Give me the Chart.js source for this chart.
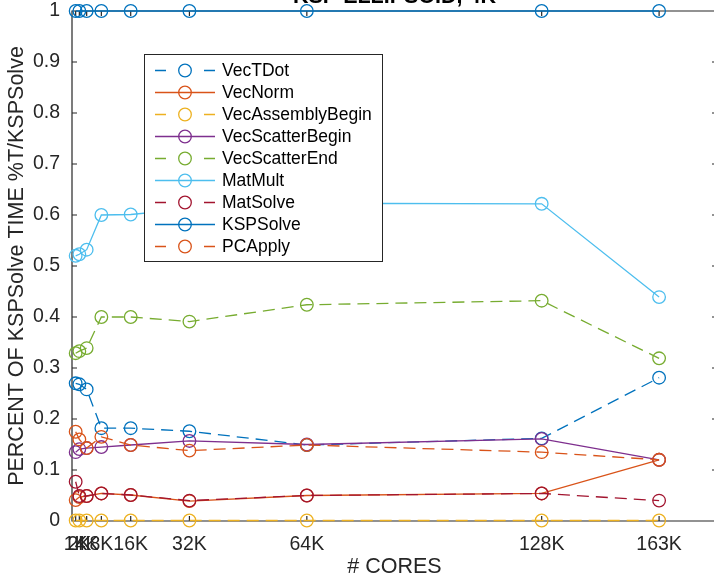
<!DOCTYPE html>
<html>
<head>
<meta charset="utf-8">
<script src="https://cdn.jsdelivr.net/npm/chart.js@4.4.1/dist/chart.umd.min.js"></script>
<style>
  html, body { margin: 0; padding: 0; background: #fff; overflow: hidden; width: 714px; height: 580px; }
  #wrap { position: relative; width: 720px; height: 580px; }
</style>
</head>
<body>
<div id="wrap"><canvas id="c" width="720" height="580"></canvas></div>
<script>
// Core counts (x positions) and their tick labels
const coreCounts = [1024, 2048, 4096, 8192, 16384, 32768, 65536, 131072, 163840];
const coreLabels = ['1K', '2K', '4K', '8K', '16K', '32K', '64K', '128K', '163K'];
const yTickValues = [0, 0.1, 0.2, 0.3, 0.4, 0.5, 0.6, 0.7, 0.8, 0.9, 1];

// Fraction of KSPSolve time spent in each event
const vecTDot          = [0.270, 0.268, 0.258, 0.182, 0.182, 0.176, 0.149, 0.162, 0.281];
const vecNorm          = [0.041, 0.047, 0.049, 0.054, 0.051, 0.039, 0.050, 0.054, 0.120];
const vecAssemblyBegin = [0.001, 0.001, 0.001, 0.001, 0.001, 0.001, 0.001, 0.001, 0.001];
const vecScatterBegin  = [0.135, 0.141, 0.143, 0.145, 0.149, 0.157, 0.150, 0.161, 0.120];
const vecScatterEnd    = [0.329, 0.333, 0.339, 0.400, 0.400, 0.391, 0.424, 0.432, 0.319];
const matMult          = [0.520, 0.523, 0.532, 0.600, 0.601, 0.612, 0.623, 0.622, 0.439];
const matSolve         = [0.077, 0.049, 0.049, 0.054, 0.051, 0.040, 0.050, 0.054, 0.040];
const kspSolve         = [1, 1, 1, 1, 1, 1, 1, 1, 1];
const pcApply          = [0.175, 0.160, 0.143, 0.165, 0.149, 0.138, 0.149, 0.135, 0.120];

const seriesNames  = ['VecTDot', 'VecNorm', 'VecAssemblyBegin', 'VecScatterBegin', 'VecScatterEnd',
                      'MatMult', 'MatSolve', 'KSPSolve', 'PCApply'];
const seriesValues = [vecTDot, vecNorm, vecAssemblyBegin, vecScatterBegin, vecScatterEnd,
                      matMult, matSolve, kspSolve, pcApply];
const seriesColors = ['#0072BD', '#D95319', '#EDB120', '#7E2F8E', '#77AC30',
                      '#4DBEEE', '#A2142F', '#0072BD', '#D95319'];
const seriesDashed = [true, false, true, false, true, false, true, false, true];

const DASH = [12, 7];
const FONT = 'Liberation Sans, Arial, Helvetica, sans-serif';
const INK = '#262626';

const datasets = seriesNames.map((name, i) => ({
  label: name,
  data: coreCounts.map((c, j) => ({ x: c, y: seriesValues[i][j] })),
  borderColor: seriesColors[i],
  borderWidth: 1.3,
  borderDash: seriesDashed[i] ? DASH : [],
  pointStyle: 'circle',
  pointRadius: 6.3,
  pointHoverRadius: 6.3,
  pointBorderWidth: 1.3,
  pointBorderColor: seriesColors[i],
  pointBackgroundColor: 'rgba(0,0,0,0)',
  tension: 0,
  fill: false,
  clip: false,
  // later series are painted over earlier ones
  order: seriesNames.length - i
}));

// Box around the plot with inward tick marks on all four sides
const axesBox = {
  id: 'axesBox',
  beforeDatasetsDraw(chart) {
    const { ctx, chartArea: a, scales: { x, y } } = chart;
    const t = 5;
    ctx.save();
    ctx.strokeStyle = INK;
    ctx.lineWidth = 1.2;
    ctx.beginPath();
    ctx.rect(a.left, a.top, a.right - a.left, a.bottom - a.top);
    coreCounts.forEach(v => {
      const px = x.getPixelForValue(v);
      ctx.moveTo(px, a.bottom); ctx.lineTo(px, a.bottom - t);
      ctx.moveTo(px, a.top); ctx.lineTo(px, a.top + t);
    });
    yTickValues.forEach(v => {
      const py = y.getPixelForValue(v);
      ctx.moveTo(a.left, py); ctx.lineTo(a.left + t, py);
      ctx.moveTo(a.right, py); ctx.lineTo(a.right - t, py);
    });
    ctx.stroke();
    ctx.restore();
  }
};

// Legend box with line + circle marker samples
const markerLegend = {
  id: 'markerLegend',
  afterDatasetsDraw(chart) {
    const { ctx } = chart;
    const box = { x: 144, y: 54, w: 238, h: 207 };
    ctx.save();
    ctx.fillStyle = '#fff';
    ctx.fillRect(box.x, box.y, box.w, box.h);
    ctx.strokeStyle = INK;
    ctx.lineWidth = 1;
    ctx.strokeRect(box.x + 0.5, box.y + 0.5, box.w, box.h);
    chart.data.datasets.forEach((ds, i) => {
      const yy = 70.5 + i * 22;
      const x0 = 155, x1 = 215, xm = 185;
      ctx.strokeStyle = ds.borderColor;
      ctx.lineWidth = 1.3;
      ctx.setLineDash([]);
      ctx.beginPath();
      if (seriesDashed[i]) {
        ctx.moveTo(x0, yy); ctx.lineTo(x0 + 11, yy);
        ctx.moveTo(x1 - 11, yy); ctx.lineTo(x1, yy);
      } else {
        ctx.moveTo(x0, yy); ctx.lineTo(x1, yy);
      }
      ctx.stroke();
      ctx.beginPath();
      ctx.arc(xm, yy, 6.3, 0, Math.PI * 2);
      ctx.stroke();
      ctx.fillStyle = '#000';
      ctx.font = '17.5px ' + FONT;
      ctx.textBaseline = 'middle';
      ctx.textAlign = 'left';
      ctx.fillText(ds.label, 222, yy + 1);
    });
    ctx.restore();
  }
};

// Plot title (sits at the very top edge of the figure)
const topTitle = {
  id: 'topTitle',
  afterDraw(chart) {
    const { ctx, chartArea: a } = chart;
    ctx.save();
    ctx.fillStyle = '#000';
    ctx.font = 'bold 21.5px ' + FONT;
    ctx.textAlign = 'center';
    ctx.textBaseline = 'alphabetic';
    ctx.fillText('KSP ELLIPSOID, 4K', (a.left + a.right) / 2, 3);
    ctx.restore();
  }
};

Chart.defaults.font.family = FONT;
Chart.defaults.color = INK;

new Chart(document.getElementById('c'), {
  type: 'line',
  data: { datasets },
  options: {
    responsive: false,
    animation: false,
    events: [],
    layout: { autoPadding: false, padding: { left: 0, right: 3, top: 11, bottom: 0 } },
    plugins: { legend: { display: false }, tooltip: { enabled: false }, title: { display: false } },
    scales: {
      x: {
        type: 'linear',
        min: 0,
        max: 180000,
        grid: { display: false, drawTicks: false },
        border: { display: false },
        afterBuildTicks: s => { s.ticks = coreCounts.map(v => ({ value: v })); },
        afterFit: s => { s.height = 59; s.paddingLeft = 0; s.paddingRight = 0; },
        ticks: {
          autoSkip: false, maxRotation: 0, minRotation: 0, padding: 12,
          font: { size: 19.5 }, color: INK,
          callback: v => coreLabels[coreCounts.indexOf(v)]
        },
        title: { display: true, text: '# CORES', font: { size: 21.5 }, color: INK, padding: { top: 0, bottom: 0 } }
      },
      y: {
        type: 'linear',
        min: 0,
        max: 1,
        grid: { display: false, drawTicks: false },
        border: { display: false },
        afterBuildTicks: s => { s.ticks = yTickValues.map(v => ({ value: v })); },
        afterFit: s => { s.width = 72; s.paddingTop = 0; s.paddingBottom = 0; },
        ticks: {
          padding: 12, font: { size: 19.5 }, color: INK,
          callback: v => String(v)
        },
        title: { display: true, text: 'PERCENT OF KSPSolve TIME %T/KSPSolve', font: { size: 21.5 }, color: INK, padding: { top: 4, bottom: 0 } }
      }
    }
  },
  plugins: [axesBox, markerLegend, topTitle]
});
</script>
</body>
</html>
